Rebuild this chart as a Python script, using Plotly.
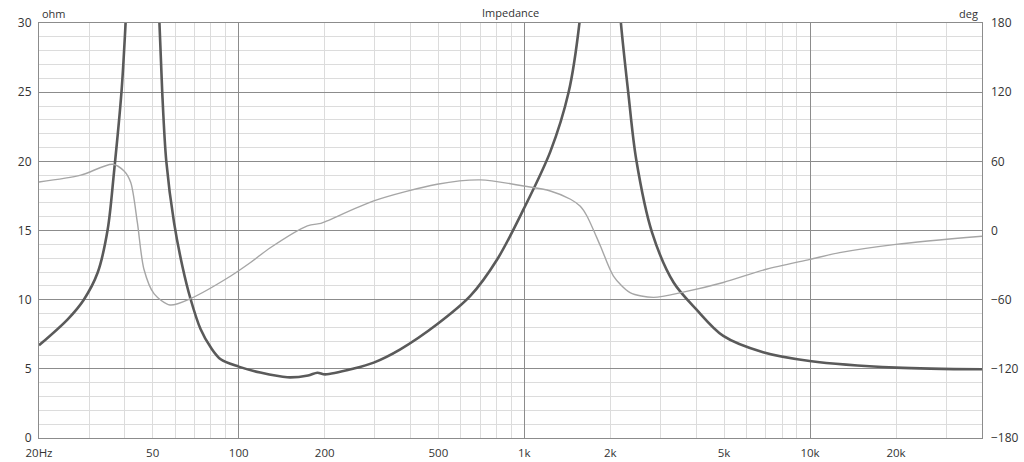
import plotly.graph_objects as go

# impedance magnitude (ohm)
imp_freq = [20, 25.2, 28.7, 32.1, 34.8, 36.6, 38.9, 40.2, 43, 47, 50.5, 52.8, 54.0, 55.8,
            59.4, 63.5, 67.9, 73.6, 79.9, 86.5, 100, 119, 148, 175, 188.5, 201, 253, 297, 368,
            495, 647, 804, 994, 1233, 1428, 1559, 1700, 1850, 2000, 2178, 2310, 2463,
            2800, 3331, 4000, 4970, 6850, 9970, 20000, 40000]
imp_ohm = [6.70, 8.58, 10.0, 11.96, 15.09, 19.19, 25.07, 30.0, 42, 55, 42, 30.0, 25.0, 20.0,
           15.57, 12.44, 10.03, 7.86, 6.54, 5.69, 5.16, 4.73, 4.39, 4.52, 4.72, 4.60, 5.02, 5.45, 6.41,
           8.22, 10.27, 12.92, 16.54, 20.7, 24.97, 30.0, 40, 50, 40, 30.0, 25.0, 20.15,
           14.85, 11.24, 9.3, 7.38, 6.2, 5.57, 5.09, 4.97]

# phase (deg)
ph_freq = [20, 28, 36.2, 39.7, 41.9, 44.2, 46.6, 50.6, 57.5, 67.9, 93.8, 110, 129, 174,
           194, 204, 297, 495, 703, 994, 1233, 1451, 1570, 1656, 1846, 2051, 2345, 2830,
           3600, 4970, 7030, 10000, 12700, 20000, 40000]
ph_deg = [42, 48, 57.5, 51.6, 41.6, 6.8, -33.6, -55, -64.6, -59, -39.5, -27.8, -15, 4,
          6.2, 8.3, 25.7, 40.1, 43.9, 38.6, 34.3, 27.1, 21, 12.6, -13.4, -39.5, -53.9, -58,
          -53.5, -45.1, -33.6, -25, -19.2, -12, -5]

x_labels = [20, 50, 100, 200, 500, 1000, 2000, 5000, 10000, 20000]
x_text = ["20Hz", "50", "100", "200", "500", "1k", "2k", "5k", "10k", "20k"]
x_major = [100, 1000, 10000]
x_minor = [m * 10 ** e for e in range(1, 5) for m in range(2, 10) if 20 < m * 10 ** e <= 40000]

MAJOR = "#8c8c8c"
MINOR = "#dcdcdc"
TXT = "#333333"

fig = go.Figure()
fig.add_trace(go.Scatter(x=ph_freq, y=ph_deg, mode="lines", xaxis="x2", yaxis="y2",
                         line=dict(color="#a6a6a6", width=1.4, shape="spline", smoothing=0.8),
                         hoverinfo="x+y", showlegend=False))
fig.add_trace(go.Scatter(x=imp_freq, y=imp_ohm, mode="lines",
                         line=dict(color="#5a5a5a", width=2.6, shape="spline", smoothing=0.9),
                         hoverinfo="x+y", showlegend=False))

xr = [1.30103, 4.60206]
fig.update_layout(
    width=1024, height=462,
    margin=dict(l=39, r=42, t=23, b=24),
    paper_bgcolor="white", plot_bgcolor="white",
    font=dict(family="Open Sans", size=12, color=TXT),
    xaxis=dict(type="log", range=xr, tickmode="array", tickvals=x_labels, ticktext=x_text,
               showgrid=False, zeroline=False, ticks="", ticklabelstandoff=4, automargin=False,
               tickfont=dict(size=11.5),
               showline=True, linecolor=MAJOR, linewidth=1, mirror=True,
               minor=dict(tickmode="array", tickvals=x_minor, showgrid=True,
                          gridcolor=MINOR, gridwidth=1, ticks="")),
    xaxis2=dict(type="log", range=xr, overlaying="x", matches="x", tickmode="array",
                tickvals=x_major, showticklabels=False, showgrid=True, gridcolor=MAJOR,
                gridwidth=1, ticks="", zeroline=False, automargin=False),
    yaxis=dict(range=[0, 30], tickmode="linear", tick0=0, dtick=5, showgrid=True,
               gridcolor=MAJOR, gridwidth=1, zeroline=False, ticks="", automargin=False,
               ticklabelstandoff=4,
               showline=True, linecolor=MAJOR, linewidth=1, mirror=True,
               minor=dict(dtick=1, showgrid=True, gridcolor=MINOR, gridwidth=1, ticks="")),
    yaxis2=dict(range=[-180, 180], tickmode="linear", tick0=-180, dtick=60, overlaying="y",
                side="right", showgrid=False, zeroline=False, ticks="", automargin=False,
                ticklabelstandoff=8),
    annotations=[
        dict(text="Impedance", x=0.5, y=1, xref="paper", yref="paper", xanchor="center",
             yanchor="bottom", showarrow=False, font=dict(size=11, color=TXT), yshift=1),
        dict(text="ohm", x=0, y=1, xref="paper", yref="paper", xanchor="left",
             yanchor="bottom", showarrow=False, font=dict(size=11, color=TXT), xshift=1),
        dict(text="deg", x=1, y=1, xref="paper", yref="paper", xanchor="right",
             yanchor="bottom", showarrow=False, font=dict(size=11, color=TXT), xshift=-2),
    ],
)

# drop the default 8px body margin so the figure sits at the window origin
fig.write_html("out.html", config={"displayModeBar": False},
               post_script="document.body.style.margin='0';")
